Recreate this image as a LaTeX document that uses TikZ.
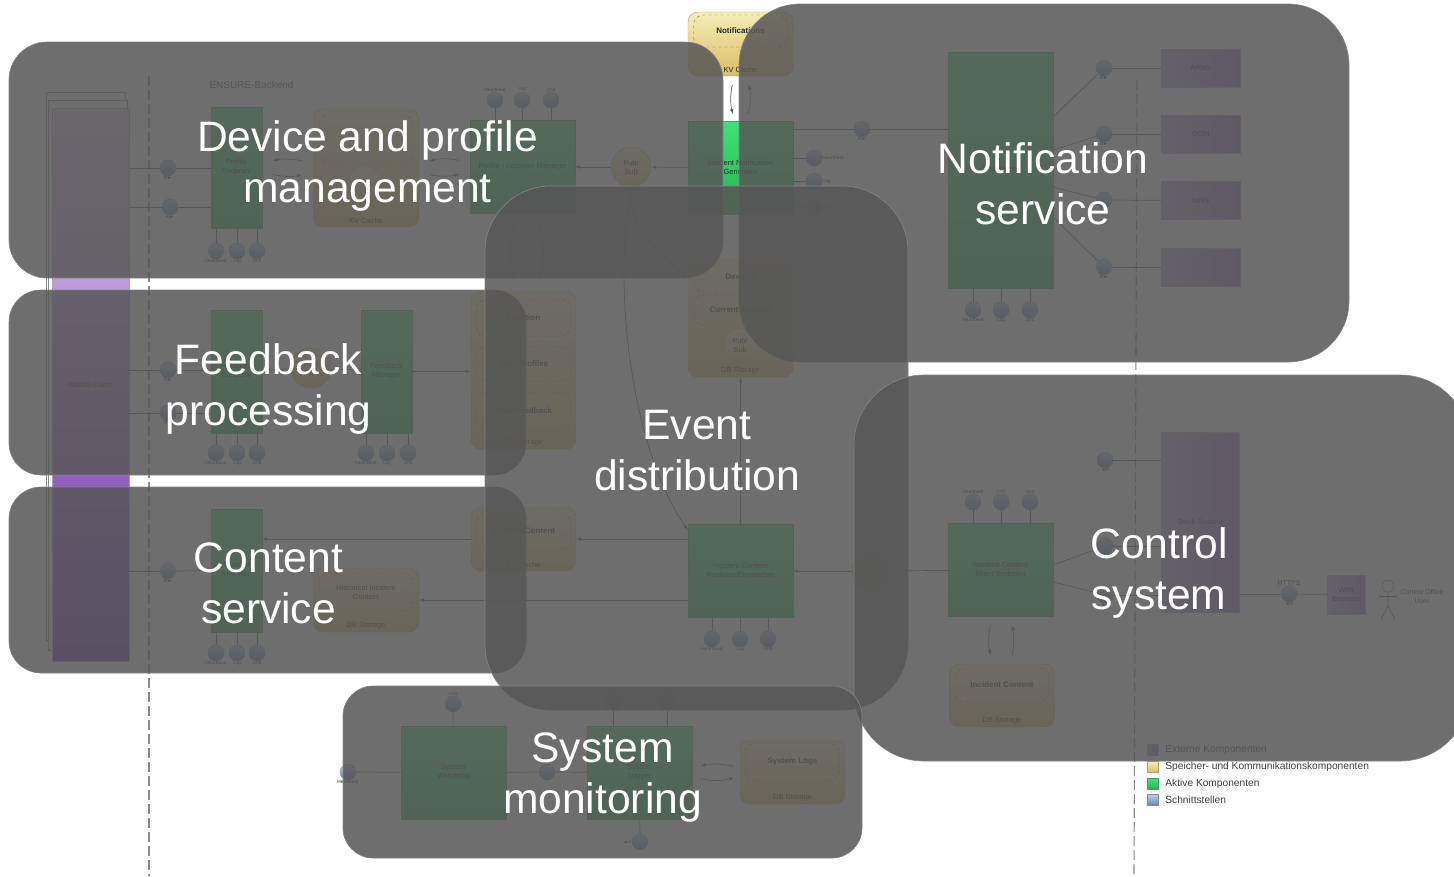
\documentclass[tikz,border=0pt]{standalone}
\usepackage{fontspec}
\setmainfont{Liberation Sans}
\usetikzlibrary{positioning}

\definecolor{regionfill}{HTML}{575757}
\definecolor{regionedge}{HTML}{84848A}
\definecolor{wirecolor}{HTML}{5E5E5E}
\definecolor{dashcolor}{HTML}{8A8A8A}
\definecolor{greentop}{HTML}{42E07A}
\definecolor{greenbottom}{HTML}{20B552}
\definecolor{greenedge}{HTML}{4A9A66}
\definecolor{yellowtop}{HTML}{F6EDB8}
\definecolor{yellowbottom}{HTML}{D9BE62}
\definecolor{yellowedge}{HTML}{B8A060}
\definecolor{purpleleft}{HTML}{B9A0DA}
\definecolor{purpleright}{HTML}{8D6AC0}
\definecolor{purpletop}{HTML}{E4D2EC}
\definecolor{purplebottom}{HTML}{6A27AF}
\definecolor{bluetop}{HTML}{BBCFE8}
\definecolor{bluebottom}{HTML}{5F86B8}

\begin{document}
\begin{tikzpicture}[
    x=1pt,
    y=-1pt,
    >=latex,
    every node/.style={
        inner sep=0pt,
        align=center,
        font=\fontsize{7.5}{9}\selectfont,
        text=black!85
    },
    active/.style={draw=greenedge, line width=0.4pt, top color=greentop, bottom color=greenbottom},
    wide/.style={active, minimum width=105, minimum height=93},
    slim/.style={active, minimum width=51, minimum height=123},
    store/.style={draw=yellowedge, rounded corners=10pt, top color=yellowtop, bottom color=yellowbottom, minimum width=105},
    compartment/.style={draw=black!60, dashed, rounded corners=10pt, minimum width=94, font=\fontsize{8}{10}\selectfont\bfseries},
    pubsub/.style={circle, draw=yellowedge, top color=yellowtop, bottom color=yellowbottom, minimum size=38},
    extern/.style={draw=black!35, line width=0.4pt, left color=purpleleft, right color=purpleright},
    iface/.style={circle, draw=black!45, line width=0.4pt, top color=bluetop, bottom color=bluebottom, minimum size=16},
    tag/.style={label distance=3.5pt},
    every label/.style={font=\fontsize{4.8}{6}\selectfont},
    link/.style={draw=wirecolor, line width=0.7pt},
    flow/.style={link, ->},
    sync/.style={flow, shorten <=11pt, shorten >=11pt},
    boundary/.style={draw=dashcolor, line width=1.1pt, dash pattern=on 10pt off 4pt},
    swatch/.style={minimum size=11},
    legend text/.style={font=\fontsize{10.2}{12}\selectfont, text=black!75},
    region/.style={
        draw=regionedge,
        line width=0.6pt,
        fill=regionfill,
        fill opacity=0.86
    },
    region text/.style={
        text=white,
        font=\fontsize{42.6}{51}\selectfont
    }
]
\useasboundingbox (0,0) rectangle (1454,876);
\fill[white] (0,0) rectangle (1454,876);

% Tier boundaries
\coordinate (left_top) at (149,76);
\coordinate (left_bottom) at (149,876);
\coordinate (right_top) at (1137,80);
\coordinate (right_bottom) at (1134,876);
\draw[boundary] (left_top) -- (left_bottom);
\draw[boundary] (right_top) -- (right_bottom);
\node[font=\fontsize{10}{12}\selectfont, text=black!70] (backend_title) at (251.5,85) {ENSURE-Backend};

% Mobile clients
\node[draw=black!45, fill=white, minimum width=79, minimum height=548] (mobile_back) at (85.5,366) {};
\node[draw=black!45, fill=white, minimum width=79, minimum height=550] (mobile_middle) at (88,375) {};
\node[draw=black!35, line width=0.4pt, shading angle=18, top color=purpletop, bottom color=purplebottom, minimum width=77, minimum height=553] (mobile_client) at (90.5,384.5) {Mobile Client};

% Device and profile management
\node[slim, minimum height=121] (profile_endpoint) at (236.5,167.5) {Profile\\Endpoint};
\node[store, minimum width=106, minimum height=118, label={[anchor=south, yshift=3pt, font=\fontsize{7.5}{9}\selectfont]south:KV Cache}] (kv_cache) at (366,168) {};
\node[compartment, minimum height=48] (kv_box) at (366,139) {};
\node[pubsub, minimum size=36] (kv_pubsub) at (365,184) {};
\node[wide] (location_manager) at (522.5,167) {Profile / Location Manager};
\node[pubsub, minimum size=40] (pub_sub) at (631,167) {Pub/\\Sub};
\node[wide] (notification_generator) at (740.5,167.5) {Incident Notification\\Generator};
\node[store, minimum height=64, label={[anchor=south, yshift=3pt, font=\fontsize{7.5}{9}\selectfont]south:KV Cache}] (notification_cache) at (740.5,44) {};
\node[compartment, minimum height=32] (notification_box) at (740.5,31) {Notifications};

\node[iface, tag, label=below:R►] (profile_r1) at (168,168) {};
\node[iface, tag, label=below:R►] (profile_r2) at (170,207) {};
\node[iface, tag, label=below:Heartbeat] (profile_heartbeat) at (216,251) {};
\node[iface, tag, label=below:Log] (profile_log) at (237,251) {};
\node[iface, tag, label=below:Unit] (profile_unit) at (257,251) {};
\node[iface, tag, label=above:Heartbeat] (location_heartbeat) at (495,100) {};
\node[iface, tag, label=above:Log] (location_log) at (522,100) {};
\node[iface, tag, label=above:Unit] (location_unit) at (551,100) {};

\draw[link] (profile_r1 -| mobile_client.east) -- (profile_r1);
\draw[link] (profile_r1) -- (profile_r1 -| profile_endpoint.west);
\draw[link] (profile_r2 -| mobile_client.east) -- (profile_r2);
\draw[link] (profile_r2) -- (profile_r2 -| profile_endpoint.west);
\draw[link] (profile_heartbeat) -- (profile_heartbeat |- profile_endpoint.south);
\draw[link] (profile_log) -- (profile_log |- profile_endpoint.south);
\draw[link] (profile_unit) -- (profile_unit |- profile_endpoint.south);
\draw[link] (location_heartbeat) -- (location_heartbeat |- location_manager.north);
\draw[link] (location_log) -- (location_log |- location_manager.north);
\draw[link] (location_unit) -- (location_unit |- location_manager.north);
\draw[sync] ([yshift=4pt]kv_cache.west) to[bend right=15] ([yshift=4pt]profile_endpoint.east);
\draw[sync] ([yshift=-4pt]profile_endpoint.east) to[bend right=15] ([yshift=-4pt]kv_cache.west);
\draw[sync] ([yshift=4pt]location_manager.west) to[bend right=15] ([yshift=4pt]kv_cache.east);
\draw[sync] ([yshift=-4pt]kv_cache.east) to[bend right=15] ([yshift=-4pt]location_manager.west);
\draw[flow] (notification_generator) -- (pub_sub);
\draw[flow] (pub_sub) -- (location_manager);
\draw[sync, shorten <=9pt, shorten >=7pt] ([xshift=-6pt]notification_cache.south) to[bend right=14] ([xshift=-6pt]notification_generator.north);
\draw[sync, shorten <=7pt, shorten >=9pt] ([xshift=6pt]notification_generator.north) to[bend right=14] ([xshift=6pt]notification_cache.south);

% Notification service
\node[active, minimum width=105, minimum height=236] (dispatcher) at (1000.5,170) {Dispatcher};
\node[iface, tag, label=below:R►] (generator_r) at (862,129) {};
\node[iface, tag, label=right:Heartbeat] (generator_heartbeat) at (814,158) {};
\node[iface, tag, label=right:Log] (generator_log) at (814,181) {};
\node[iface, tag, label=right:Unit] (generator_unit) at (814,207) {};
\node[iface, tag, label=below:R►] (apns_r) at (1104,68) {};
\node[iface, tag, label=below:R►] (gcm_r) at (1104,134) {};
\node[iface, tag, label=below:R►] (wns_r) at (1104,200) {};
\node[iface, tag, label=below:R►] (other_r) at (1104,267) {};
\node[extern, minimum width=79, minimum height=38] (apns) at (1200.5,68) {APNS};
\node[extern, minimum width=79, minimum height=38] (gcm) at (1200.5,134) {GCM};
\node[extern, minimum width=79, minimum height=38] (wns) at (1200.5,200.5) {WNS};
\node[extern, minimum width=79, minimum height=38] (other_push) at (1200.5,267) {};
\node[iface, tag, label=below:Heartbeat] (dispatcher_heartbeat) at (973,310) {};
\node[iface, tag, label=below:Log] (dispatcher_log) at (1001,310) {};
\node[iface, tag, label=below:Unit] (dispatcher_unit) at (1030,310) {};

\draw[link] (generator_r -| notification_generator.east) -- (generator_r);
\draw[link] (generator_r) -- (generator_r -| dispatcher.west);
\draw[link] (generator_heartbeat) -- (generator_heartbeat -| notification_generator.east);
\draw[link] (generator_log) -- (generator_log -| notification_generator.east);
\draw[link] (generator_unit) -- (generator_unit -| notification_generator.east);
\draw[link] ([yshift=53pt]dispatcher.east) -- (apns_r);
\draw[link] ([yshift=20pt]dispatcher.east) -- (gcm_r);
\draw[link] ([yshift=-17pt]dispatcher.east) -- (wns_r);
\draw[link] ([yshift=-47pt]dispatcher.east) -- (other_r);
\draw[link] (apns_r) -- (apns);
\draw[link] (gcm_r) -- (gcm);
\draw[link] (wns_r) -- (wns);
\draw[link] (other_r) -- (other_push);
\draw[link] (dispatcher_heartbeat) -- (dispatcher_heartbeat |- dispatcher.south);
\draw[link] (dispatcher_log) -- (dispatcher_log |- dispatcher.south);
\draw[link] (dispatcher_unit) -- (dispatcher_unit |- dispatcher.south);

% Feedback processing
\node[slim] (feedback_endpoint) at (236.5,371.5) {Feedback\\Endpoint};
\node[pubsub, minimum size=40] (feedback_pubsub) at (311,368) {Pub/\\Sub};
\node[slim] (feedback_manager) at (386.5,371.5) {Feedback\\Manager};
\node[store, minimum height=158, label={[anchor=south, yshift=3pt, font=\fontsize{7.5}{9}\selectfont]south:DB Storage}] (feedback_store) at (523.5,370) {};
\node[compartment, minimum height=37] (location_box) at (523.5,318) {Location};
\node[compartment, minimum height=35] (profiles_box) at (523.5,364) {User Profiles};
\node[compartment, minimum height=37] (feedback_box) at (523.5,411) {User Feedback};

\node[iface, tag, label=below:R►] (feedback_r1) at (168,370) {};
\node[iface, tag, label=below:R►] (feedback_r2) at (168,413) {};
\node[iface, tag, label=below:Heartbeat] (feedback_heartbeat) at (216,453) {};
\node[iface, tag, label=below:Log] (feedback_log) at (237,453) {};
\node[iface, tag, label=below:Unit] (feedback_unit) at (257,453) {};
\node[iface, tag, label=below:Heartbeat] (manager_heartbeat) at (366,453) {};
\node[iface, tag, label=below:Log] (manager_log) at (387,453) {};
\node[iface, tag, label=below:Unit] (manager_unit) at (408,453) {};

\draw[link] (feedback_r1 -| mobile_client.east) -- (feedback_r1);
\draw[link] (feedback_r1) -- (feedback_r1 -| feedback_endpoint.west);
\draw[link] (feedback_r2 -| mobile_client.east) -- (feedback_r2);
\draw[link] (feedback_r2) -- (feedback_r2 -| feedback_endpoint.west);
\draw[link] (feedback_endpoint) -- (feedback_pubsub);
\draw[link] (feedback_pubsub) -- (feedback_manager);
\draw[flow] (feedback_manager) -- (feedback_manager -| feedback_store.west);
\draw[link] (feedback_heartbeat) -- (feedback_heartbeat |- feedback_endpoint.south);
\draw[link] (feedback_log) -- (feedback_log |- feedback_endpoint.south);
\draw[link] (feedback_unit) -- (feedback_unit |- feedback_endpoint.south);
\draw[link] (manager_heartbeat) -- (manager_heartbeat |- feedback_manager.south);
\draw[link] (manager_log) -- (manager_log |- feedback_manager.south);
\draw[link] (manager_unit) -- (manager_unit |- feedback_manager.south);

% Content service
\node[slim] (content_endpoint) at (236.5,570.5) {Content\\Endpoint};
\node[store, minimum height=64, label={[anchor=south, yshift=3pt, font=\fontsize{7.5}{9}\selectfont]south:KV Cache}] (content_cache) at (523.5,539) {};
\node[compartment, minimum height=38] (content_box) at (523.5,531) {Incident Content};
\node[store, minimum width=106, minimum height=64, label={[anchor=south, yshift=3pt, font=\fontsize{7.5}{9}\selectfont]south:DB Storage}] (historical_store) at (366,600) {};
\node[compartment, minimum height=38, font=\fontsize{7.5}{9}\selectfont] (historical_box) at (366,592) {Historical Incident\\Content};
\node[iface, tag, label=below:R►] (content_r) at (168,571) {};
\node[iface, tag, label=below:Heartbeat] (content_heartbeat) at (216,653) {};
\node[iface, tag, label=below:Log] (content_log) at (237,653) {};
\node[iface, tag, label=below:Unit] (content_unit) at (257,653) {};

\draw[link] (content_r -| mobile_client.east) -- (content_r);
\draw[link] (content_r) -- (content_endpoint);
\draw[flow] (content_cache) -- (content_cache -| content_endpoint.east);
\draw[link] (content_heartbeat) -- (content_heartbeat |- content_endpoint.south);
\draw[link] (content_log) -- (content_log |- content_endpoint.south);
\draw[link] (content_unit) -- (content_unit |- content_endpoint.south);

% Event distribution
\node[wide] (content_dispatcher) at (740.5,571) {Incident Content\\Producer/Dispatcher};
\node[store, minimum height=119, label={[anchor=south, yshift=3pt, font=\fontsize{7.5}{9}\selectfont]south:DB Storage}] (event_store) at (740.5,317.5) {};
\node[compartment, minimum height=30] (devices_box) at (740.5,277) {Devices};
\node[compartment, minimum height=30] (incident_box) at (740.5,310) {Current Incident};
\node[pubsub, minimum size=34] (event_pubsub) at (740,345) {Pub/\\Sub};
\node[iface, tag, label=below:Heartbeat] (producer_heartbeat) at (712,639) {};
\node[iface, tag, label=below:Log] (producer_log) at (740,639) {};
\node[iface, tag, label=below:Unit] (producer_unit) at (768,639) {};

\draw[flow] (content_dispatcher) -- (event_store);
\draw[flow] ([yshift=32pt]content_dispatcher.west) -- ([yshift=32pt]content_dispatcher.west -| content_cache.east);
\draw[flow] ([yshift=-29pt]content_dispatcher.west) -- ([yshift=-29pt]content_dispatcher.west -| historical_store.east);
\draw[flow] (pub_sub.south) .. controls (612,290) and (632,450) .. ([yshift=41pt]content_dispatcher.west);
\draw[flow] (pub_sub.south) .. controls (626,225) and (660,255) .. (event_store.west |- devices_box);
\draw[link] (producer_heartbeat) -- (producer_heartbeat |- content_dispatcher.south);
\draw[link] (producer_log) -- (producer_log |- content_dispatcher.south);
\draw[link] (producer_unit) -- (producer_unit |- content_dispatcher.south);
\draw[sync, shorten <=12pt, shorten >=12pt] ([xshift=-6pt]location_manager.south) to[bend right=14] ([xshift=-6pt]feedback_store.north);
\draw[sync, shorten <=12pt, shorten >=12pt] ([xshift=14pt]feedback_store.north) to[bend right=14] ([xshift=14pt]location_manager.south);

% Control system
\node[wide] (mgmt_endpoint) at (1000.5,570) {Incident Content\\Mgmt Endpoint};
\node[pubsub] (mgmt_pubsub) at (871,571) {};
\node[store, minimum height=63, label={[anchor=south, yshift=3pt, font=\fontsize{7.5}{9}\selectfont]south:DB Storage}] (incident_store) at (1002,695.5) {};
\node[compartment, minimum height=34] (incident_content_box) at (1002,685) {Incident Content};
\node[extern, minimum width=78, minimum height=180] (desk_system) at (1200.5,522.5) {Desk System};
\node[iface, tag, label=below:◄R] (desk_r) at (1105,460) {};
\node[iface, tag, label=below:◄R] (mgmt_r1) at (1105,546) {};
\node[iface, tag, label=below:◄R] (mgmt_r2) at (1105,595) {};
\node[iface, tag, label={[font=\fontsize{7}{9}\selectfont]above:HTTPS}, label=below:◄R] (browser_r) at (1289,594) {};
\node[extern, minimum width=38, minimum height=39] (web_browser) at (1346,594.5) {Web\\Browser};
\node[iface, tag, label=above:Heartbeat] (mgmt_heartbeat) at (973,502) {};
\node[iface, tag, label=above:Log] (mgmt_log) at (1001,502) {};
\node[iface, tag, label=above:Unit] (mgmt_unit) at (1030,502) {};
\node[circle, draw=black!70, minimum size=12] (actor_head) at (1388,586) {};
\node[font=\fontsize{7}{9}\selectfont] (control_user) at (1422,596) {Control Office\\User};

\draw[flow] (mgmt_pubsub) -- (content_dispatcher);
\draw[link] (mgmt_endpoint) -- (mgmt_pubsub);
\draw[link] ([yshift=5pt]mgmt_endpoint.east) -- (mgmt_r1);
\draw[link] ([yshift=-12pt]mgmt_endpoint.east) -- (mgmt_r2);
\draw[link] (mgmt_r1) -- (mgmt_r1 -| desk_system.west);
\draw[link] (mgmt_r2) -- (mgmt_r2 -| desk_system.west);
\draw[link] (desk_r) -- (desk_r -| desk_system.west);
\draw[link] (browser_r -| desk_system.east) -- (browser_r);
\draw[link] (browser_r) -- (web_browser);
\draw[link] (mgmt_heartbeat) -- (mgmt_heartbeat |- mgmt_endpoint.north);
\draw[link] (mgmt_log) -- (mgmt_log |- mgmt_endpoint.north);
\draw[link] (mgmt_unit) -- (mgmt_unit |- mgmt_endpoint.north);
\draw[sync, shorten <=9pt, shorten >=9pt] ([xshift=-8pt]mgmt_endpoint.south) to[bend right=14] ([xshift=-9pt]incident_store.north);
\draw[sync, shorten <=9pt, shorten >=9pt] ([xshift=8pt]incident_store.north) to[bend right=14] ([xshift=9pt]mgmt_endpoint.south);
\draw[link] (actor_head.south) -- ++(0,14) -- ++(-7,13);
\draw[link] (actor_head.south) ++(0,14) -- ++(7,13);
\draw[link] (actor_head.south) ++(-9,4) -- ++(18,0);

% System monitoring
\node[wide] (system_watchdog) at (453.5,772.5) {System\\Watchdog};
\node[wide] (system_logger) at (639.5,772.5) {System\\Logger};
\node[store, minimum height=64, label={[anchor=south, yshift=3pt, font=\fontsize{7.5}{9}\selectfont]south:DB Storage}] (system_logs) at (792.5,772) {};
\node[compartment, minimum height=38] (logs_box) at (792.5,762) {System Logs};
\node[iface, tag, label=below:Heartbeat] (watchdog_heartbeat) at (348,772) {};
\node[iface, tag, label=above:Unit] (watchdog_unit) at (453,704) {};
\node[iface] (watchdog_logger) at (547,772) {};
\node[iface, tag, label=above:Log] (logger_log) at (613,702) {};
\node[iface, tag, label=above:Unit] (logger_unit) at (667,702) {};
\node[iface, tag, label=left:▲R] (logger_r) at (640,842) {};

\draw[link] (watchdog_heartbeat) -- (system_watchdog);
\draw[link] (watchdog_unit) -- (system_watchdog);
\draw[link] (system_watchdog) -- (watchdog_logger);
\draw[link] (watchdog_logger) -- (system_logger);
\draw[link] (logger_log) -- (logger_log |- system_logger.north);
\draw[link] (logger_unit) -- (logger_unit |- system_logger.north);
\draw[link] (logger_r) -- (system_logger);
\draw[sync, shorten <=6pt, shorten >=9pt] ([yshift=4pt]system_logs.west) to[bend right=15] ([yshift=4pt]system_logger.east);
\draw[sync, shorten <=9pt, shorten >=6pt] ([yshift=-4pt]system_logger.east) to[bend right=15] ([yshift=-4pt]system_logs.west);

% Legend
\node[swatch, extern] (legend_external) at (1152.5,750) {};
\node[swatch, draw=yellowedge, top color=yellowtop, bottom color=yellowbottom] (legend_store) at (1152.5,767) {};
\node[swatch, active] (legend_active) at (1152.5,784) {};
\node[swatch, draw=black!45, top color=bluetop, bottom color=bluebottom] (legend_interface) at (1152.5,800) {};
\node[legend text, right=7pt of legend_external] (legend_external_text) {Externe Komponenten};
\node[legend text, right=7pt of legend_store] (legend_store_text) {Speicher- und Kommunikationskomponenten};
\node[legend text, right=7pt of legend_active] (legend_active_text) {Aktive Komponenten};
\node[legend text, right=7pt of legend_interface] (legend_interface_text) {Schnittstellen};

% Regions laid over the architecture
\node[region, rounded corners=38pt, minimum width=714, minimum height=236] (device_region) at (366,160) {};
\node[region, rounded corners=61pt, minimum width=610, minimum height=358] (notification_region) at (1044,183) {};
\node[region, rounded corners=32pt, minimum width=517, minimum height=185] (feedback_region) at (267.5,382.5) {};
\node[region, rounded corners=32pt, minimum width=517, minimum height=186] (content_region) at (267.5,580) {};
\node[region, rounded corners=66pt, minimum width=423, minimum height=524] (event_region) at (696.5,448) {};
\node[region, rounded corners=70pt, minimum width=616, minimum height=386] (control_region) at (1162,568) {};
\node[region, rounded corners=30pt, minimum width=519, minimum height=172] (monitoring_region) at (602.5,772) {};

% Region titles
\node[region text] (device_title) at (367.5,166) {Device and profile\\management};
\node[region text] (notification_title) at (1043,184) {Notification\\service};
\node[region text] (feedback_title) at (268.5,388.5) {Feedback\\processing};
\node[region text] (content_title) at (268.5,583) {Content\\service};
\node[region text] (event_title) at (697,451) {Event\\distribution};
\node[region text] (control_title) at (1159,573) {Control\\system};
\node[region text] (monitoring_title) at (602.5,778) {System\\monitoring};

\end{tikzpicture}
\end{document}
